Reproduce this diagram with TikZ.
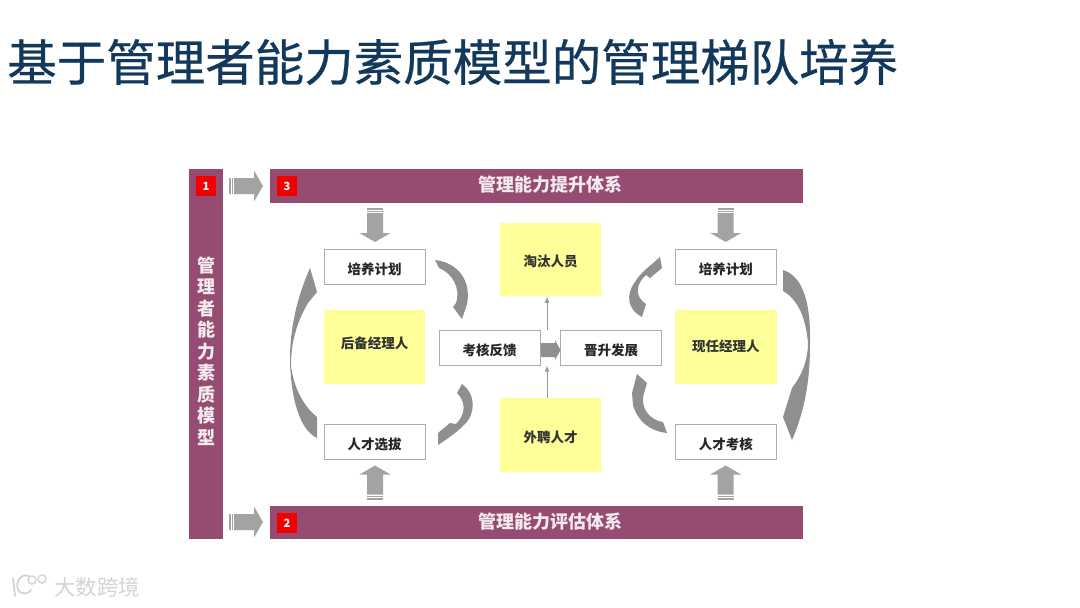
\documentclass[tikz,border=0pt]{standalone}
\usepackage{fontspec}
\usepackage{xcolor}
\setmainfont{Noto Sans CJK SC}
\newfontfamily\titlefont[FakeBold=0.5]{Noto Sans CJK SC}
\definecolor{barpurple}{HTML}{964C72}
\definecolor{paleyellow}{HTML}{FFFF99}
\definecolor{titleblue}{HTML}{12395C}
\definecolor{arrowgray}{HTML}{A3A3A3}
\definecolor{curvegray}{HTML}{8F8F8F}
\definecolor{marksilver}{HTML}{D4D4D4}
\tikzset{
  bar/.style={fill=barpurple,draw=none},
  bartext/.style={text=white!88!barpurple,font=\bfseries\fontsize{12.8}{15.3}\selectfont,align=center},
  redmark/.style={fill=red!95!black,text=white,font=\bfseries\fontsize{8}{9}\selectfont,minimum size=14.4pt,inner sep=0pt},
  whitebox/.style={draw=black!32,line width=0.6pt,fill=white,minimum width=72.2pt,minimum height=24.4pt,inner sep=0pt,text=black!85,text height=10.3pt,text depth=0pt,font=\bfseries\fontsize{9.6}{11}\selectfont},
  yellowbox/.style={fill=paleyellow,minimum width=72.2pt,minimum height=52.6pt,inner sep=0pt,text=black!80,text height=10.3pt,text depth=0pt,font=\bfseries\fontsize{9.6}{11}\selectfont},
  curvearrow/.style={fill=curvegray,draw=none},
  thinarrow/.style={draw=black!40,line width=0.5pt,-latex},
  blockarrow/.pic={
    \fill[arrowgray] (0,-8) rectangle (1.5,8);
    \fill[arrowgray] (2.5,-8) rectangle (4,8);
    \fill[arrowgray] (5,-8) -- (25,-8) -- (25,-15.5) -- (34,0) -- (25,15.5) -- (25,8) -- (5,8) -- cycle;
  }
}
\begin{document}
\begin{tikzpicture}[x=0.025cm,y=-0.025cm]
  \useasboundingbox (0,0) rectangle (1080,607);
  \node[anchor=west,inner sep=0pt,text=titleblue,font=\titlefont\fontsize{35.2}{40}\selectfont] (title) at (7,62) {基于管理者能力素质模型的管理梯队培养};

  % bars
  \fill[bar] (189,169) rectangle (223,539);
  \fill[bar] (270,169) rectangle (803,202.5);
  \fill[bar] (270,506) rectangle (803,539);
  \node[bartext] (model) at (206,351) {管\\理\\者\\能\\力\\素\\质\\模\\型};
  \node[bartext] (raise) at (550,185) {管理能力提升体系};
  \node[bartext] (assess) at (550,522) {管理能力评估体系};
  \node[redmark] (m1) at (206,186) {1};
  \node[redmark] (m3) at (287,186) {3};
  \node[redmark] (m2) at (287,523) {2};

  % boxes
  \node[whitebox] (planl) at (374.7,267) {培养计划};
  \node[whitebox] (selectl) at (374.7,442) {人才选拔};
  \node[whitebox] (planr) at (725.8,267) {培养计划};
  \node[whitebox] (checkr) at (725.8,442) {人才考核};
  \node[whitebox] (feedback) at (489.7,348) {考核反馈};
  \node[whitebox] (promote) at (611,348) {晋升发展};
  \node[yellowbox,text height=1.9pt] (reserve) at (374.7,347) {后备经理人};
  \node[yellowbox,text height=6.1pt] (current) at (725.8,347) {现任经理人};
  \node[yellowbox] (dismiss) at (550.5,259.5) {淘汰人员};
  \node[yellowbox] (hire) at (550.5,435) {外聘人才};

  % straight arrows
  \foreach \px/\py/\ang in {229/186/0,229/522/0,375/208/-90,725.7/208/-90,375/499.5/90,725.7/499.5/90}
    \pic[rotate=\ang] at (\px,\py) {blockarrow};
  \fill[curvegray] (feedback.east |- 0,343) -- (555,343) -- (555,340) -- (560.5,350) -- (555,360) -- (555,357) -- (feedback.east |- 0,357) -- cycle;
  \coordinate (gap) at (547,348);
  \draw[thinarrow] (hire.north -| gap) -- (gap |- feedback.south);
  \draw[thinarrow] (gap |- feedback.north) -- (gap |- dismiss.south);

  % curved arrows
  \fill[curvearrow] (435,260) .. controls (455,262) and (472,278) .. (467,304) -- (462,319) -- (453,307) -- (456,303) .. controls (461,288) and (452,273) .. (439,268) -- cycle;
  \fill[curvearrow] (462,384) .. controls (476,394) and (476,414) .. (464,425) .. controls (456,433) and (447,439) .. (438,445) -- (438,433) -- (450,423) -- (456,424) .. controls (466,414) and (466,402) .. (457,393) -- cycle;
  \fill[curvearrow] (642,317) .. controls (628,310) and (625,295) .. (635,282) .. controls (640,273) and (650,266) .. (660,257) -- (662,268) -- (650,278) -- (646,275) .. controls (636,284) and (634,296) .. (646,304) -- cycle;
  \fill[curvearrow] (667,433) .. controls (650,431) and (638,422) .. (633,405) -- (632,393) -- (637,374) -- (647,383) -- (643,397) .. controls (642,410) and (650,420) .. (663,422) -- cycle;
  \fill[curvearrow] (310,268) -- (317,292) -- (308,303) .. controls (298,320) and (291,340) .. (291,365) .. controls (293,385) and (302,405) .. (317,417) -- (317,438) .. controls (300,430) and (291,400) .. (290,360) .. controls (290,330) and (296,300) .. (310,268) -- cycle;
  \fill[curvearrow] (783,270) .. controls (802,276) and (811,300) .. (810,345) .. controls (810,380) and (805,410) .. (792,440) -- (783,417) -- (792,388) .. controls (802,375) and (808,360) .. (808,343) .. controls (806,320) and (799,300) .. (783,291) -- cycle;

  % watermark
  \draw[marksilver,line width=1.3pt,line cap=round] (13,578) -- (15,596);
  \draw[marksilver,line width=1.3pt,line cap=round] (29,576) .. controls (18,572) and (14,588) .. (20,592) .. controls (24,595) and (29,593) .. (31,590);
  \draw[marksilver,line width=1pt] (32,580) circle (4) (42,579) circle (4);
  \node[anchor=west,inner sep=0pt,text=marksilver,font=\fontsize{15.3}{17}\selectfont] (mark) at (54,587) {大数跨境};
\end{tikzpicture}
\end{document}
